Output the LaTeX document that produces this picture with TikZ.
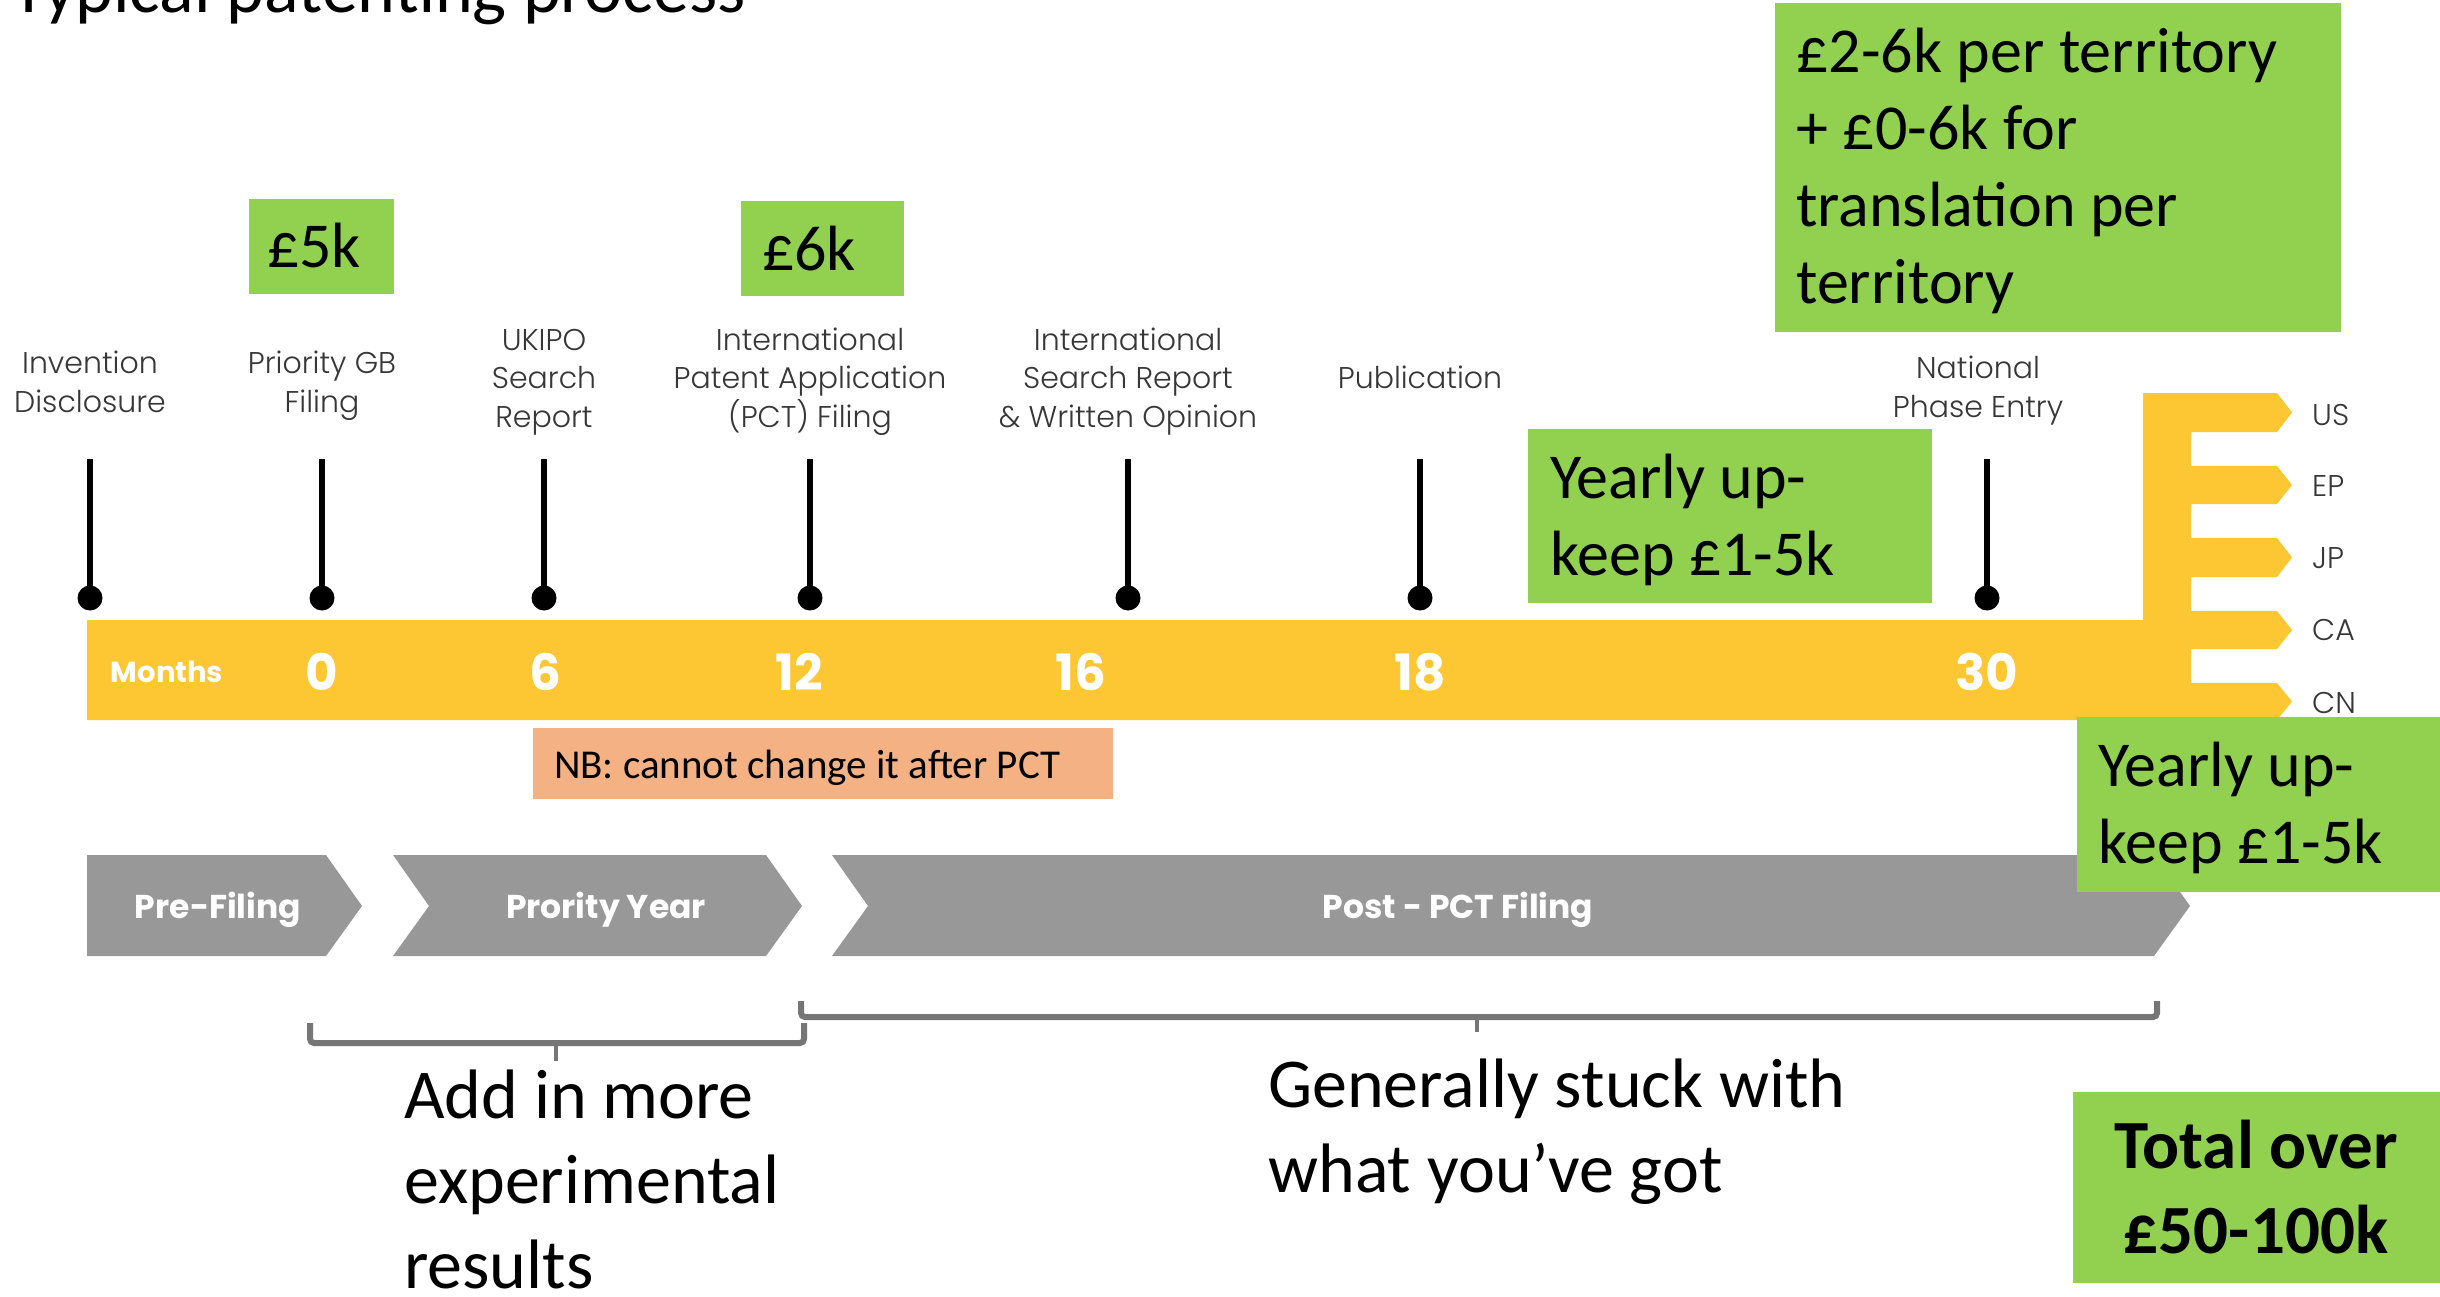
\documentclass[tikz,border=0pt]{standalone}
\usepackage{fontspec}
\setmainfont{Carlito}
\newfontfamily\pop{Poppins}
\IfFontExistsTF{Poppins Light}{\newfontfamily\popl{Poppins Light}}{\newfontfamily\popl{Poppins}}
\definecolor{timelineyellow}{RGB}{252,199,50}
\definecolor{gbox}{RGB}{146,208,80}
\definecolor{nbbox}{RGB}{244,177,131}
\definecolor{chev}{RGB}{152,152,152}
\definecolor{brk}{RGB}{118,118,118}
\definecolor{lbl}{RGB}{55,55,55}
\tikzset{
  gboxst/.style={fill=gbox, draw=none, inner sep=0pt, anchor=north west},
  lab/.style={font=\popl\fontsize{30}{38.5}\selectfont, text=lbl, align=center, anchor=base, inner sep=0pt},
  ctry/.style={font=\popl\fontsize{30}{36}\selectfont, text=lbl, anchor=base west, inner sep=0pt},
  num/.style={font=\pop\bfseries\fontsize{50}{60}\selectfont, text=white, anchor=base, inner sep=0pt},
  chevtxt/.style={font=\pop\bfseries\fontsize{33}{40}\selectfont, text=white, anchor=base, inner sep=0pt},
  gtxt/.style={font=\fontsize{64}{76.7}\selectfont, align=left, anchor=base west, inner sep=0pt},
  bigtxt/.style={font=\fontsize{70}{85}\selectfont, align=left, anchor=base west, inner sep=0pt},
  ticksty/.style={line width=6pt, draw=black},
  brack/.style={line width=6pt, draw=brk, rounded corners=4pt},
  stem/.style={line width=4pt, draw=brk},
}
\begin{document}
\begin{tikzpicture}[x=1pt,y=-1pt]
\useasboundingbox (0,0) rectangle (2440,1297);
\clip (0,0) rectangle (2440,1297);
\fill[white] (0,0) rectangle (2440,1297);

% title
\node[font=\fontsize{72}{86}\selectfont, anchor=base west, inner sep=0pt] (title) at (11,13) {Typical patenting process};

% yellow timeline with country branches
\path[fill=timelineyellow] (87,620) -- (2143,620) -- (2143,393) -- (2277,393) -- (2292,412.5) -- (2277,432) -- (2191,432)
  -- (2191,466) -- (2277,466) -- (2292,485) -- (2277,504) -- (2191,504)
  -- (2191,538) -- (2277,538) -- (2292,557.5) -- (2277,577) -- (2191,577)
  -- (2191,611) -- (2277,611) -- (2292,630) -- (2277,649) -- (2191,649)
  -- (2191,683) -- (2277,683) -- (2292,701.5) -- (2277,720) -- (87,720) -- cycle;

\node[ctry] (us) at (2312,425) {US};
\node[ctry] (ep) at (2312,496) {EP};
\node[ctry] (jp) at (2312,568) {JP};
\node[ctry] (ca) at (2312,640) {CA};
\node[ctry] (cn) at (2312,713) {CN};

% months
\node[font=\pop\bfseries\fontsize{29}{35}\selectfont, text=white, anchor=base, inner sep=0pt] (months) at (167,682) {Months};
\node[num] (m0) at (322,690) {0};
\node[num] (m6) at (545,690) {6};
\node[num] (m12) at (799,690) {12};
\node[num] (m16) at (1081,690) {16};
\node[num] (m18) at (1420,690) {18};
\node[num] (m30) at (1987,690) {30};

% ticks
\foreach \x/\n in {90/a,322/b,544/c,810/d,1128/e,1420/f,1987/g}{
  \coordinate (tt\n) at (\x,459);
  \coordinate (tb\n) at (\x,598);
  \draw[ticksty] (tt\n) -- (tb\n);
  \fill[black] (tb\n) circle[radius=12.5pt];
}

% labels (anchor base = last line)
\node[lab] (l1) at (90,412) {Invention\\Disclosure};
\node[lab] (l2) at (322,412) {Priority GB\\Filing};
\node[lab] (l3) at (544,427) {UKIPO\\Search\\Report};
\node[lab] (l4) at (810,427) {International\\Patent Application\\(PCT) Filing};
\node[lab] (l5) at (1128,427) {International\\Search Report\\\& Written Opinion};
\node[lab] (l6) at (1420,388) {Publication};
\node[lab] (l7) at (1978,417) {National\\Phase Entry};

% NB box
\node[fill=nbbox, inner sep=0pt, anchor=north west, minimum width=580pt, minimum height=71pt] (nb) at (533,728) {};
\node[font=\fontsize{41}{49}\selectfont, anchor=base west, inner sep=0pt] (nbt) at (554,778) {NB: cannot change it after PCT};

% chevrons
\path[fill=chev] (87,855) -- (326,855) -- (362,906) -- (326,956) -- (87,956) -- cycle;
\path[fill=chev] (393,855) -- (766,855) -- (802,906) -- (766,956) -- (393,956) -- (429,906) -- cycle;
\path[fill=chev] (832,855) -- (2154,855) -- (2190,906) -- (2154,956) -- (832,956) -- (868,906) -- cycle;
\node[chevtxt] (c1) at (218,918) {Pre-Filing};
\node[chevtxt] (c2) at (606,918) {Prority Year};
\node[chevtxt] (c3) at (1458,918) {Post - PCT Filing};

% brackets
\draw[brack] (310,1023) -- (310,1043) -- (804,1043) -- (804,1023);
\draw[stem] (556,1043) -- (556,1061);
\draw[brack] (801,1001) -- (801,1017) -- (2157,1017) -- (2157,1001);
\draw[stem] (1477,1017) -- (1477,1032);

\node[bigtxt] (addin) at (404,1288) {Add in more\\experimental\\results};
\node[bigtxt] (stuck) at (1268,1192) {Generally stuck with\\what you’ve got};

% green boxes
\node[gboxst, minimum width=145pt, minimum height=95pt] (g5) at (249,199) {};
\node[font=\fontsize{64}{76}\selectfont, anchor=base, inner sep=0pt] (g5t) at (314,268) {£5k};
\node[gboxst, minimum width=163pt, minimum height=95pt] (g6) at (741,201) {};
\node[font=\fontsize{64}{76}\selectfont, anchor=base, inner sep=0pt] (g6t) at (809,270) {£6k};

\node[gboxst, minimum width=566pt, minimum height=329pt] (gnat) at (1775,3) {};
\node[gtxt] (gnatt) at (1796,303) {£2-6k per territory\\+ £0-6k for\\translation per\\territory};

\node[gboxst, minimum width=404pt, minimum height=174pt] (gy1) at (1528,429) {};
\node[gtxt] (gy1t) at (1550,575) {Yearly up-\\keep £1-5k};

\node[gboxst, minimum width=370pt, minimum height=175pt] (gy2) at (2077,717) {};
\node[gtxt] (gy2t) at (2098,863) {Yearly up-\\keep £1-5k};

\node[gboxst, minimum width=370pt, minimum height=191pt] (gtot) at (2073,1092) {};
\node[font=\bfseries\fontsize{69}{85}\selectfont, align=center, anchor=base, inner sep=0pt] (gtott) at (2256,1253) {Total over\\£50-100k};
\end{tikzpicture}
\end{document}
